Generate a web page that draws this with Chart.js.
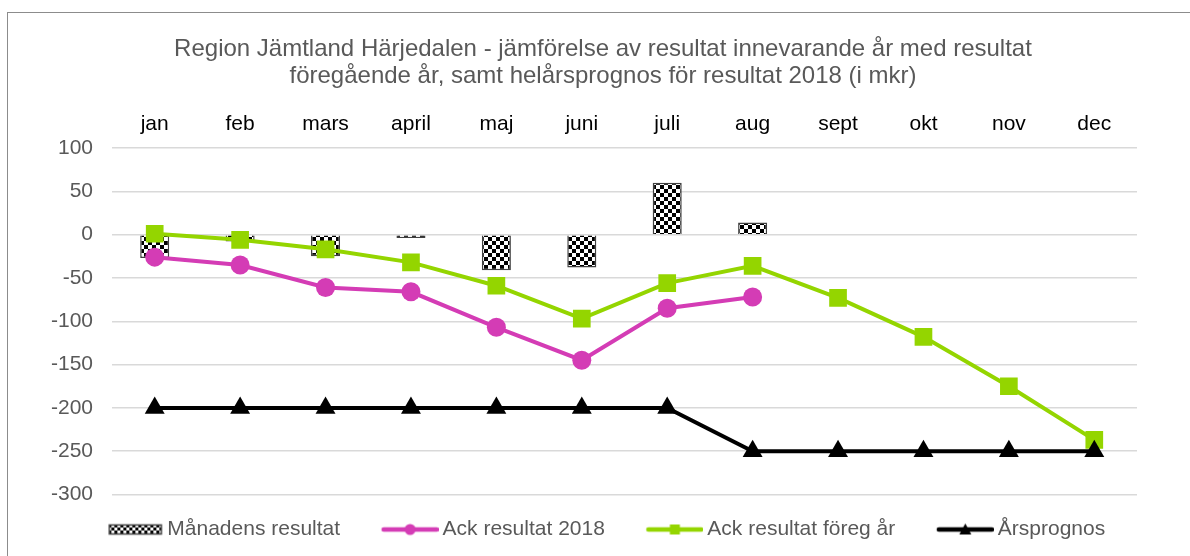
<!DOCTYPE html>
<html>
<head>
<meta charset="utf-8">
<script src="https://cdn.jsdelivr.net/npm/chart.js@4"></script>
<style>
html, body { margin: 0; padding: 0; background: #fff; overflow: hidden; }
#frame { position: absolute; left: 7px; top: 12px; width: 1200px; height: 560px; border: 1px solid #8c8c8c; }
#wrap { position: absolute; left: 0; top: 0; width: 1190px; height: 537px; }
</style>
</head>
<body>
<div id="frame"><div id="wrap"><canvas id="chart"></canvas></div></div>
<script>
// Data (mkr)
const months = ['jan', 'feb', 'mars', 'april', 'maj', 'juni', 'juli', 'aug', 'sept', 'okt', 'nov', 'dec'];
const monthResult = [-27, -8, -25, -4, -41, -38, 60, 14, null, null, null, null];
const ack2018 = [-26, -35, -61, -66, -107, -145, -85, -72, null, null, null, null];
const ackPrevYear = [1, -6, -17, -32, -59, -97, -56, -36, -73, -118, -175, -237];
const forecast = [-200, -200, -200, -200, -200, -200, -200, -250, -250, -250, -250, -250];
const yTicks = [100, 50, 0, -50, -100, -150, -200, -250, -300];

const FONT = '"Liberation Sans", Arial, sans-serif';
const GREY = '#595959';
const PINK = '#d43cb5';
const GREEN = '#94d500';

/**
 * Checkered fill used by the monthly bars
 */
function checkerPattern(cell) {
    const c = document.createElement('canvas');
    c.width = cell * 2;
    c.height = cell * 2;
    const ctx = c.getContext('2d');
    ctx.fillStyle = '#fff';
    ctx.fillRect(0, 0, c.width, c.height);
    ctx.fillStyle = '#000';
    ctx.fillRect(0, 0, cell, cell);
    ctx.fillRect(cell, cell, cell, cell);
    return document.createElement('canvas').getContext('2d').createPattern(c, 'repeat');
}

/**
 * Legend icons: transparent left part, visible mark in x 40..97
 */
function legendIcon(kind, color) {
    const c = document.createElement('canvas');
    c.width = 97;
    c.height = 22;
    const ctx = c.getContext('2d');
    const cy = 11;
    if (kind === 'bar') {
        ctx.fillStyle = checkerPattern(3);
        ctx.fillRect(43, cy - 4.5, 52, 9);
        ctx.strokeStyle = '#404040';
        ctx.lineWidth = 1.5;
        ctx.strokeRect(43, cy - 4.5, 52, 9);
        return c;
    }
    ctx.strokeStyle = color;
    ctx.lineWidth = 4.5;
    ctx.lineCap = 'round';
    ctx.beginPath();
    ctx.moveTo(42, cy);
    ctx.lineTo(95, cy);
    ctx.stroke();
    ctx.fillStyle = color;
    const mx = 68.5;
    if (kind === 'circle') {
        ctx.beginPath();
        ctx.arc(mx, cy, 5.5, 0, Math.PI * 2);
        ctx.fill();
    } else if (kind === 'rect') {
        ctx.fillRect(mx - 5, cy - 5, 10, 10);
    } else {
        ctx.beginPath();
        ctx.moveTo(mx, cy - 6);
        ctx.lineTo(mx + 6, cy + 5);
        ctx.lineTo(mx - 6, cy + 5);
        ctx.closePath();
        ctx.fill();
    }
    return c;
}

const legendIcons = [
    legendIcon('bar'),
    legendIcon('circle', PINK),
    legendIcon('rect', GREEN),
    legendIcon('triangle', '#000')
];

// The icons carry empty space on their left, so pull the legend row back a bit
const legendShift = {
    id: 'legendShift',
    afterLayout(chart) {
        if (chart.legend) {
            chart.legend.left -= 14;
            chart.legend.right -= 14;
        }
    }
};

const ctx = document.getElementById('chart').getContext('2d');
new Chart(ctx, {
    data: {
        labels: months,
        datasets: [
            {
                type: 'bar',
                label: 'Månadens resultat',
                data: monthResult,
                backgroundColor: checkerPattern(4),
                borderColor: '#404040',
                borderWidth: 1.5,
                barPercentage: 0.34,
                categoryPercentage: 1,
                order: 4
            },
            {
                type: 'line',
                label: 'Ack resultat 2018',
                data: ack2018,
                borderColor: PINK,
                backgroundColor: PINK,
                borderWidth: 4,
                pointStyle: 'circle',
                pointRadius: 9.5,
                pointBorderWidth: 0,
                order: 2
            },
            {
                type: 'line',
                label: 'Ack resultat föreg år',
                data: ackPrevYear,
                borderColor: GREEN,
                backgroundColor: GREEN,
                borderWidth: 4,
                pointStyle: 'rect',
                pointRadius: 12.5,
                pointBorderWidth: 0,
                order: 1
            },
            {
                type: 'line',
                label: 'Årsprognos',
                data: forecast,
                borderColor: '#000',
                backgroundColor: '#000',
                borderWidth: 4,
                pointStyle: 'triangle',
                pointRadius: 11.5,
                pointBorderWidth: 0,
                order: 0
            }
        ]
    },
    plugins: [legendShift],
    options: {
        responsive: true,
        maintainAspectRatio: false,
        animation: false,
        layout: { padding: 0 },
        plugins: {
            title: {
                display: true,
                text: [
                    'Region Jämtland Härjedalen - jämförelse av resultat innevarande år med resultat',
                    'föregående år, samt helårsprognos för resultat 2018 (i mkr)'
                ],
                color: GREY,
                font: { family: FONT, size: 24, weight: 'normal', lineHeight: '27px' },
                padding: { top: 23, bottom: 0 }
            },
            legend: {
                position: 'bottom',
                labels: {
                    usePointStyle: true,
                    pointStyleWidth: 84,
                    padding: 8,
                    color: GREY,
                    font: { family: FONT, size: 21 },
                    generateLabels: function(chart) {
                        return chart.data.datasets.map((ds, i) => ({
                            text: ds.label,
                            pointStyle: legendIcons[i],
                            fillStyle: 'transparent',
                            strokeStyle: 'transparent',
                            lineWidth: 0,
                            hidden: false,
                            datasetIndex: i,
                            fontColor: GREY
                        }));
                    }
                }
            },
            tooltip: { enabled: false }
        },
        scales: {
            x: {
                position: 'top',
                grid: { display: false },
                border: { display: false },
                ticks: { color: '#000', font: { family: FONT, size: 21 }, padding: 3 },
                afterFit: function(scale) { scale.height = 58; }
            },
            xb: {
                type: 'category',
                position: 'bottom',
                grid: { display: false },
                border: { display: false },
                ticks: { display: false },
                afterFit: function(scale) { scale.height = 16.5; }
            },
            y: {
                min: -300,
                max: 100,
                afterBuildTicks: function(scale) {
                    scale.ticks = yTicks.map(v => ({ value: v }));
                },
                grid: { color: '#d9d9d9', lineWidth: 1.5, drawTicks: false },
                border: { display: false },
                ticks: { color: GREY, font: { family: FONT, size: 21 }, padding: 19 },
                afterFit: function(scale) { scale.width = 104; }
            },
            yr: {
                type: 'linear',
                position: 'right',
                grid: { display: false },
                border: { display: false },
                ticks: { display: false },
                afterFit: function(scale) { scale.width = 61; }
            }
        }
    }
});
</script>
</body>
</html>
